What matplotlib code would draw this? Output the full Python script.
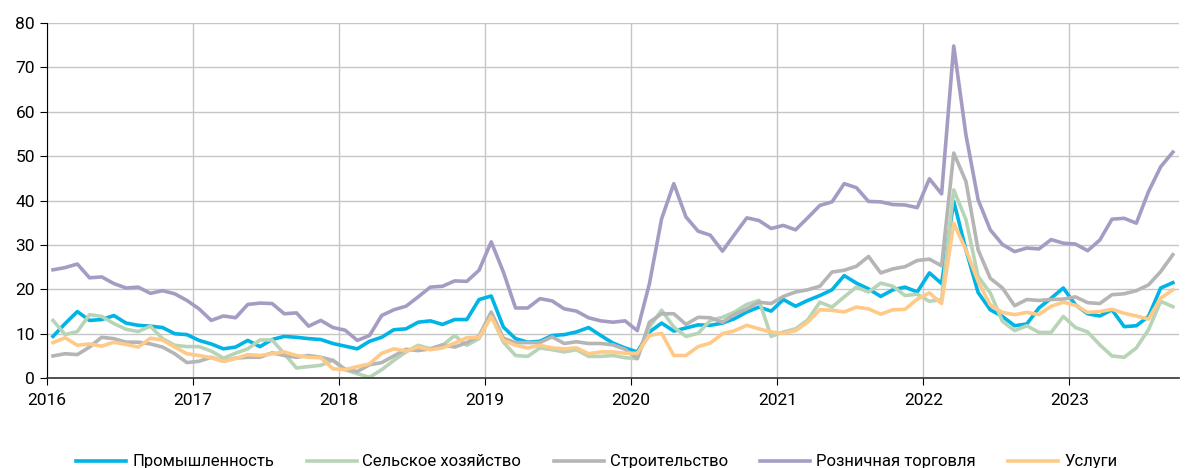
import matplotlib.pyplot as plt
import numpy as np

# Monthly values, Jan 2016 - Sep 2023
industry = [9.4, 12.3, 15.0, 13.0, 13.2, 14.1, 12.4, 11.9, 11.7, 11.4, 10.0, 9.8,
            8.5, 7.7, 6.6, 7.0, 8.5, 7.1, 8.7, 9.4, 9.2, 8.9, 8.7, 7.8,
            7.2, 6.6, 8.3, 9.2, 10.9, 11.1, 12.6, 12.9, 12.1, 13.2, 13.2, 17.7,
            18.5, 11.5, 8.9, 8.1, 8.3, 9.6, 9.8, 10.4, 11.4, 9.6, 7.9, 6.8,
            5.9, 10.4, 12.4, 10.6, 11.3, 12.0, 11.9, 12.4, 13.4, 14.9, 16.0, 15.1,
            17.7, 16.2, 17.5, 18.6, 19.9, 23.1, 21.4, 20.1, 18.4, 19.9, 20.5, 19.4,
            23.7, 21.3, 39.8, 28.9, 19.3, 15.4, 13.9, 11.8, 12.2, 15.8, 18.0, 20.3,
            16.5, 14.5, 14.0, 15.4, 11.6, 11.8, 13.9, 20.3, 21.5]
agriculture = [13.0, 9.8, 10.5, 14.3, 13.9, 12.3, 11.0, 10.5, 11.7, 8.9, 7.4, 7.1,
               7.1, 6.1, 4.5, 5.6, 6.6, 8.6, 8.6, 5.5, 2.3, 2.6, 2.9, 4.0,
               1.9, 1.0, 0.2, 1.9, 4.0, 5.9, 7.4, 6.6, 7.4, 9.6, 7.4, 8.9,
               14.1, 8.1, 5.1, 4.9, 6.8, 6.4, 5.9, 6.4, 4.9, 4.9, 5.1, 4.6,
               4.4, 11.5, 15.3, 11.5, 9.4, 10.1, 13.0, 13.7, 14.9, 16.6, 17.5, 9.4,
               10.4, 11.1, 13.1, 17.1, 16.0, 18.3, 20.5, 19.4, 21.4, 20.7, 18.6, 18.9,
               17.3, 17.7, 42.4, 35.7, 22.9, 19.2, 12.8, 10.7, 11.8, 10.3, 10.3, 13.9,
               11.4, 10.4, 7.5, 5.0, 4.7, 6.8, 10.9, 17.3, 16.1]
construction = [5.0, 5.5, 5.3, 7.0, 9.2, 8.9, 8.1, 8.1, 7.7, 7.0, 5.5, 3.5,
                3.8, 4.7, 3.8, 4.5, 4.7, 4.7, 5.7, 5.1, 4.7, 5.1, 4.7, 4.0,
                2.0, 1.5, 3.0, 3.5, 5.0, 6.5, 6.2, 6.6, 7.5, 7.0, 8.0, 9.5,
                14.9, 9.0, 8.0, 8.0, 8.0, 9.3, 7.8, 8.2, 7.8, 7.8, 7.5, 6.5,
                4.4, 12.6, 14.5, 14.5, 12.1, 13.7, 13.6, 12.6, 14.4, 15.6, 17.1, 16.8,
                18.4, 19.4, 19.9, 20.7, 23.9, 24.3, 25.2, 27.4, 23.7, 24.6, 25.1, 26.5,
                26.8, 25.3, 50.7, 44.3, 28.9, 22.5, 20.3, 16.3, 17.7, 17.5, 17.7, 17.8,
                18.3, 17.0, 16.8, 18.8, 19.0, 19.7, 21.0, 24.0, 27.8]
retail = [24.4, 24.9, 25.7, 22.6, 22.8, 21.3, 20.3, 20.5, 19.1, 19.7, 19.0, 17.5,
          15.6, 13.0, 14.0, 13.6, 16.6, 16.9, 16.8, 14.5, 14.7, 11.7, 13.0, 11.4,
          10.8, 8.5, 9.6, 14.1, 15.4, 16.2, 18.3, 20.5, 20.7, 21.9, 21.8, 24.3,
          30.7, 23.9, 15.8, 15.8, 17.9, 17.4, 15.6, 15.1, 13.6, 12.9, 12.6, 12.9,
          10.7, 21.3, 35.9, 43.8, 36.3, 33.1, 32.2, 28.6, 32.4, 36.1, 35.5, 33.7,
          34.4, 33.4, 36.1, 38.9, 39.7, 43.8, 42.9, 39.8, 39.7, 39.1, 39.0, 38.4,
          44.9, 41.5, 74.8, 54.8, 40.2, 33.4, 30.1, 28.5, 29.3, 29.1, 31.2, 30.4,
          30.2, 28.7, 31.1, 35.8, 36.0, 34.9, 42.0, 47.6, 50.9]
services = [8.0, 9.1, 7.4, 7.7, 7.2, 8.1, 7.6, 7.0, 9.0, 8.6, 7.0, 5.5,
            5.1, 4.6, 3.8, 4.4, 5.3, 5.1, 5.5, 5.9, 5.1, 4.7, 4.6, 2.1,
            1.9, 2.6, 3.2, 5.6, 6.6, 6.1, 7.0, 6.4, 6.8, 7.9, 9.1, 9.2,
            13.9, 8.5, 7.4, 6.8, 7.4, 6.8, 6.6, 6.8, 5.5, 5.9, 5.9, 5.6,
            5.6, 9.6, 10.1, 5.1, 5.1, 7.1, 7.9, 10.0, 10.7, 11.9, 11.1, 10.4,
            10.1, 10.7, 12.6, 15.4, 15.3, 14.9, 16.0, 15.6, 14.4, 15.4, 15.5, 17.8,
            19.2, 16.8, 34.9, 28.9, 21.8, 16.5, 14.8, 14.3, 14.8, 14.3, 16.2, 17.1,
            16.4, 14.8, 15.0, 15.5, 14.6, 14.0, 13.3, 18.0, 19.9]

series_names = ['Промышленность', 'Сельское хозяйство', 'Строительство',
                'Розничная торговля', 'Услуги']
series_colors = ['#00B4E6', '#B7D4B7', '#B5B5B5', '#A69CC3', '#FFC987']
year_labels = ['2016', '2017', '2018', '2019', '2020', '2021', '2022', '2023']

plt.rcParams['font.family'] = ['Roboto', 'DejaVu Sans']

fig = plt.figure(figsize=(12.03, 4.68), dpi=100)
ax = fig.add_axes([0.039, 0.192, 0.941, 0.759])

x = np.arange(len(industry)) + 0.5
for vals, name, col in zip([industry, agriculture, construction, retail, services],
                           series_names, series_colors):
    ax.plot(x, vals, color=col, linewidth=2.6, label=name, solid_joinstyle='round')

ax.set_xlim(0, len(industry))
ax.set_ylim(0, 80)
ax.set_xticks(np.arange(len(year_labels)) * 12)
ax.set_xticklabels(year_labels)
ax.set_yticks(np.arange(0, 81, 10))
ax.grid(True, color='#C6C6C6', linewidth=1.0)
ax.set_axisbelow(True)
for s in ['top', 'right']:
    ax.spines[s].set_visible(False)
ax.spines['left'].set_color('black')
ax.spines['bottom'].set_color('#333333')
ax.spines['bottom'].set_linewidth(1.2)
ax.tick_params(axis='both', labelsize=12.5, length=5, direction='out', colors='black')
ax.tick_params(axis='x', pad=6)

fig.legend(loc='lower center', bbox_to_anchor=(0.496, -0.035), ncol=5, frameon=False,
           fontsize=12, handlelength=3.0, handletextpad=0.35, columnspacing=1.95)

fig.savefig('out.png', dpi=100)
